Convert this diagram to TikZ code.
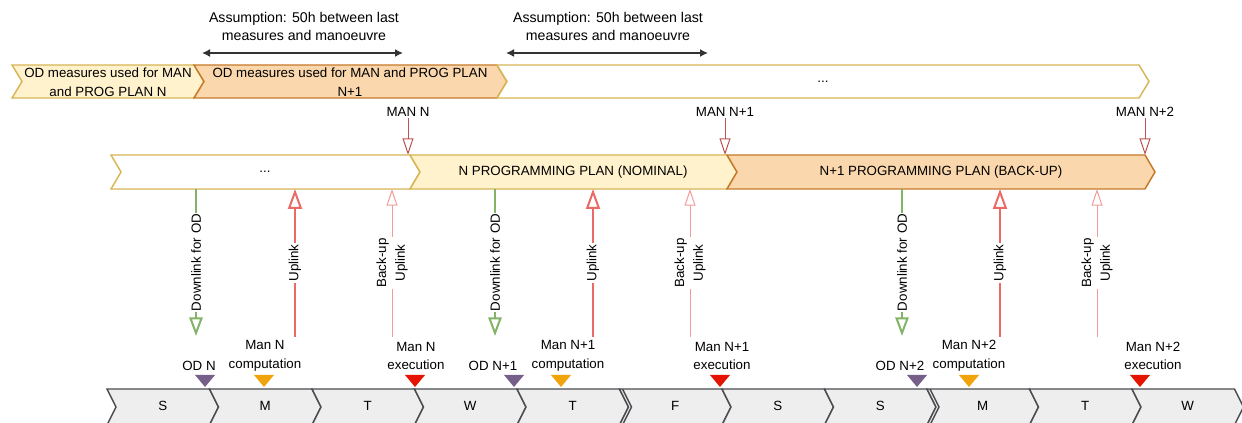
\documentclass[tikz,border=0pt]{standalone}
\usepackage{fontspec}
\setmainfont{Liberation Sans}
\usetikzlibrary{arrows.meta}

\definecolor{goldline}{HTML}{D6B656}
\definecolor{paleyellow}{HTML}{FFF2CC}
\definecolor{peach}{HTML}{FAD7AC}
\definecolor{peachline}{HTML}{C57A2A}
\definecolor{daygray}{HTML}{EEEEEE}
\definecolor{dayline}{HTML}{4A4C50}
\definecolor{odgreen}{HTML}{82B366}
\definecolor{upred}{HTML}{EA6B66}
\definecolor{bkred}{HTML}{F19C99}
\definecolor{manred}{HTML}{B85450}
\definecolor{odpurple}{HTML}{76608A}
\definecolor{comporange}{HTML}{F0A30A}
\definecolor{execred}{HTML}{E51400}
\definecolor{spangray}{HTML}{333333}

% one step of a timeline: style, left x, flat right x, top y, bottom y, tip depth
\newcommand{\stepbar}[6]{%
  \draw[#1] (#2,#4) -- (#3,#4) -- ({#3+#6},{(#4+#5)/2}) -- (#3,#5) -- (#2,#5) -- ({#2+#6},{(#4+#5)/2}) -- cycle;}

\tikzset{
  every node/.style={font=\fontsize{10}{14}\selectfont, inner sep=1pt},
  dayshape/.style={fill=daygray, draw=dayline, line width=1.1pt},
  plannom/.style={fill=paleyellow, draw=goldline, line width=1.1pt},
  planbak/.style={fill=peach, draw=peachline, line width=1.1pt},
  planblank/.style={fill=white, draw=goldline, line width=1.1pt},
  downlink/.style={draw=odgreen, line width=1.5pt, -{Triangle[open,length=14pt,width=10pt]}},
  uplink/.style={draw=upred, line width=1.5pt, -{Triangle[open,length=15pt,width=10.5pt]}},
  bkuplink/.style={draw=bkred, line width=0.75pt, -{Triangle[open,length=12.5pt,width=8.25pt]}},
  manarrow/.style={draw=manred, line width=0.75pt, -{Triangle[open,length=12.5pt,width=8.25pt]}},
  spanarrow/.style={draw=spangray, line width=1.1pt, {Latex[length=6pt,width=6pt]}-{Latex[length=6pt,width=6pt]}},
  asmtext/.style={align=center, font=\fontsize{10.6}{13.5}\selectfont},
  linklabel/.style={fill=white, rotate=90, align=center}
}

\begin{document}
\begin{tikzpicture}[x=0.75pt,y=-0.75pt]
  \clip (0,0) rectangle (1242,423);
  \useasboundingbox (0,0) rectangle (1242,423);

  % assumptions
  \node[asmtext] (asm1) at (304,26) {Assumption: 50h between last\\measures and manoeuvre};
  \node[asmtext] (asm2) at (608,26) {Assumption: 50h between last\\measures and manoeuvre};
  \coordinate (asm1l) at (202,53); \coordinate (asm1r) at (403,53);
  \coordinate (asm2l) at (506,53); \coordinate (asm2r) at (708,53);
  \draw[spanarrow] (asm1l) -- (asm1r);
  \draw[spanarrow] (asm2l) -- (asm2r);

  % OD measures bar
  \stepbar{plannom}{12}{194}{65}{98}{10}
  \stepbar{planbak}{194}{497}{65}{98}{10}
  \stepbar{planblank}{497}{1139}{65}{98}{10}
  \node[align=center] (odn) at (108,82) {OD measures used for MAN\\and PROG PLAN N};
  \node[align=center] (odn1) at (350,82) {OD measures used for MAN and PROG PLAN\\N+1};
  \node (odmore) at (823,82) {...};

  % manoeuvres
  \foreach \x/\lab [count=\i] in {408/MAN N, 725/MAN N+1, 1145/MAN N+2} {
    \node (man\i) at (\x,112) {\lab};
    \coordinate (mantip\i) at (\x,155);
    \draw[manarrow] (man\i) -- (mantip\i);
  }

  % programming plans
  \stepbar{planblank}{111}{410}{155}{189}{10}
  \stepbar{plannom}{410}{727}{155}{189}{10}
  \stepbar{planbak}{727}{1145}{155}{189}{10}
  \node (planmore) at (265,172) {...};
  \node (plann) at (573,172) {N PROGRAMMING PLAN (NOMINAL)};
  \node (plann1) at (941,172) {N+1 PROGRAMMING PLAN (BACK-UP)};

  % links
  \foreach \d/\u/\b [count=\i] in {196/295/392, 495/593/690, 902/1000/1097} {
    \coordinate (dltop\i) at (\d,189); \coordinate (dlend\i) at (\d,336);
    \coordinate (uptop\i) at (\u,189); \coordinate (upend\i) at (\u,337);
    \coordinate (bktop\i) at (\b,189); \coordinate (bkend\i) at (\b,337);
    \draw[downlink] (dltop\i) -- (dlend\i) node[linklabel, midway] {Downlink for OD};
    \draw[uplink] (upend\i) -- (uptop\i) node[linklabel, midway] {Uplink};
    \draw[bkuplink] (bkend\i) -- (bktop\i) node[linklabel, midway] {Back-up\\Uplink};
  }

  % events
  \foreach \x/\c in {205/odpurple, 264/comporange, 415/execred, 514/odpurple, 561/comporange,
                     720/execred, 917/odpurple, 969/comporange, 1140/execred}
    \fill[\c] (\x-10,375) -- (\x+10,375) -- (\x,387) -- cycle;
  \node (odev1) at (199,366) {OD N};
  \node[align=center] (comp1) at (265,356) {Man N\\computation};
  \node[align=center] (exec1) at (416,356) {Man N\\execution};
  \node (odev2) at (493,366) {OD N+1};
  \node[align=center] (comp2) at (568,356) {Man N+1\\computation};
  \node[align=center] (exec2) at (722,356) {Man N+1\\execution};
  \node (odev3) at (900,366) {OD N+2};
  \node[align=center] (comp3) at (969,356) {Man N+2\\computation};
  \node[align=center] (exec3) at (1153,356) {Man N+2\\execution};

  % days
  \foreach \dname [count=\i from 0] in {S,M,T,W,T,F,S,S,M,T,W} {
    \pgfmathsetmacro\xa{107+102.5*\i}
    \stepbar{dayshape}{\xa}{\xa+102.5}{389}{425}{9}
    \node (day\i) at (\xa+55.75,406) {\dname};
  }
  \draw[dayline, line width=1.1pt] (622.5,389) -- (631.5,407) -- (622.5,425);
  \draw[dayline, line width=1.1pt] (930,389) -- (939,407) -- (930,425);
\end{tikzpicture}
\end{document}
